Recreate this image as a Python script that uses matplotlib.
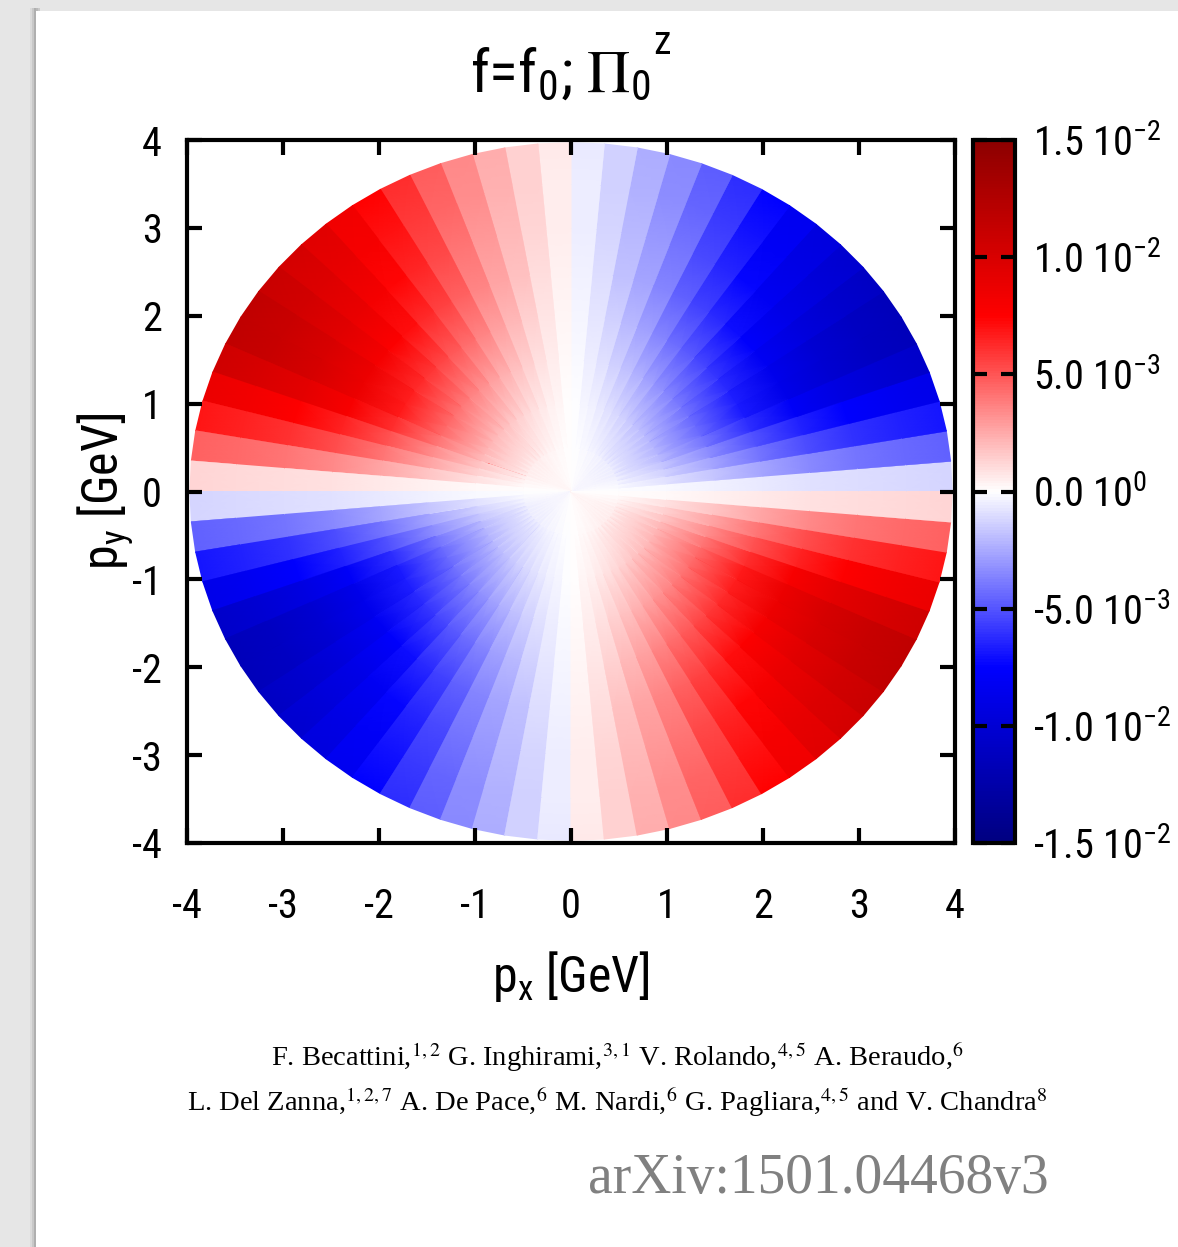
import numpy as np
import matplotlib
matplotlib.use("Agg")
import matplotlib.pyplot as plt
from matplotlib.colors import LinearSegmentedColormap, Normalize
from matplotlib.patches import Rectangle
from matplotlib.cm import ScalarMappable

# Pi_0^z at the rim of each 5-degree sector of the (px<0, py>0) quadrant, units of 1e-3
sector_centers_deg = np.arange(92.5, 180.0, 5.0)
rim_values = np.array([0.6, 1.4, 2.4, 3.5, 4.7, 6.1, 7.4, 8.4, 9.4,
                       10.2, 10.9, 11.5, 11.6, 10.6, 8.7, 6.9, 4.6, 1.2]) * 1e-3

# growth with transverse momentum, relative to the rim value
radial_nodes = [0.0, 0.5, 1.0, 1.5, 2.0, 2.5, 3.0, 3.5, 3.97]
radial_shape = [0.0, 0.05, 0.19, 0.38, 0.58, 0.75, 0.87, 0.95, 1.0]

tick_values = [-4, -3, -2, -1, 0, 1, 2, 3, 4]
cb_ticks = [-1.5e-2, -1.0e-2, -5.0e-3, 0.0, 5.0e-3, 1.0e-2, 1.5e-2]
cb_mantissa = ["-1.5", "-1.0", "-5.0", "0.0", "5.0", "1.0", "1.5"]
cb_exponent = ["-2", "-2", "-3", "0", "-3", "-2", "-2"]

SANS = ["Roboto Condensed", "Liberation Sans Narrow", "Liberation Sans", "DejaVu Sans"]
SERIF = ["Liberation Serif", "DejaVu Serif"]
plt.rcParams["font.family"] = SANS

W, H = 1178, 1247
fig = plt.figure(figsize=(W / 100, H / 100), dpi=100, facecolor="#e6e6e6")

# white page with a soft shadow on its left edge
for i, a in enumerate([0.05, 0.08, 0.12]):
    fig.patches.append(Rectangle(((30 + 2 * i) / W, 0), 6 / W, (H - 8) / H,
                                 transform=fig.transFigure, facecolor="k",
                                 alpha=a, edgecolor="none", zorder=-2))
fig.patches.append(Rectangle((36 / W, 0), 1 - 36 / W, (H - 11) / H,
                             transform=fig.transFigure, facecolor="white",
                             edgecolor="none", zorder=-1))

# gnuplot-like blue-white-red palette
cmap = LinearSegmentedColormap.from_list(
    "bwr_dark",
    [(0.0, (0.0, 0.0, 0.5)), (0.25, (0.0, 0.0, 1.0)), (0.5, (1.0, 1.0, 1.0)),
     (0.75, (1.0, 0.0, 0.0)), (1.0, (0.55, 0.0, 0.0))])
norm = Normalize(-1.5e-2, 1.5e-2)

# full azimuthal profile: antisymmetric about py axis, periodic in pi
q1 = -rim_values[::-1]
upper = np.concatenate([q1, rim_values])
sector_values = np.concatenate([upper, upper])
edges = np.arange(0.0, 360.0 + 5.0, 5.0)
ang = np.deg2rad(np.repeat(edges, 2)[1:-1])
R, A = np.meshgrid(radial_nodes, ang, indexing="ij")
X = R * np.cos(A)
Y = R * np.sin(A)
C = np.outer(radial_shape, np.repeat(sector_values, 2))

ax = fig.add_axes([187 / W, 1 - 843 / H, 768 / W, 703 / H])
ax.pcolormesh(X, Y, C, shading="gouraud", cmap=cmap, norm=norm,
              antialiased=True)
ax.set_xlim(-4, 4)
ax.set_ylim(-4, 4)
ax.set_xticks(tick_values)
ax.set_yticks(tick_values)
ax.set_xticklabels([str(v) for v in tick_values])
ax.set_yticklabels([str(v) for v in tick_values])
ax.tick_params(direction="in", length=11, width=3, top=True, right=True,
               labelsize=29, pad=18)
ax.tick_params(axis="x", pad=32)
for s in ax.spines.values():
    s.set_linewidth(3)

ax.set_xlabel(r"p$_{\mathregular{x}}$ [GeV]", fontsize=36)
ax.xaxis.label.set_va("baseline")
ax.xaxis.set_label_coords(0.5, -(992 - 843) / 703)
ax.set_ylabel(r"p$_{\mathregular{y}}$ [GeV]", fontsize=36)
ax.yaxis.label.set_va("center")
ax.yaxis.set_label_coords((105 - 187) / 768, 0.5)

# title: f = f0 ; Pi_0 with a raised z
fig.text(560 / W, 1 - 92 / H,
         r"f=f$_{\mathregular{0}}$; $\Pi_{\mathregular{0}}$",
         ha="center", va="baseline", fontsize=43, math_fontfamily="stix")
fig.text(653 / W, 1 - 54 / H, "z", ha="left", va="baseline", fontsize=29)

# colour box
cax = fig.add_axes([973 / W, 1 - 843 / H, 42 / W, 703 / H])
cb = fig.colorbar(ScalarMappable(norm=norm, cmap=cmap), cax=cax)
cb.outline.set_linewidth(3)
cb.set_ticks(cb_ticks)
cb.set_ticklabels([rf"{m} 10$^{{\mathregular{{{e}}}}}$"
                   for m, e in zip(cb_mantissa, cb_exponent)])
cax.tick_params(direction="in", length=10, width=3, left=True, right=True,
                labelsize=29, pad=13)

# authors and reference
fig.text(617 / W, 1 - 1057 / H,
         r"F. Becattini,$^{1,2}$ G. Inghirami,$^{3,1}$ V. Rolando,$^{4,5}$ A. Beraudo,$^{6}$",
         ha="center", va="center", fontsize=20.5, family=SERIF, math_fontfamily="stix")
fig.text(617 / W, 1 - 1102 / H,
         r"L. Del Zanna,$^{1,2,7}$ A. De Pace,$^{6}$ M. Nardi,$^{6}$ G. Pagliara,$^{4,5}$ and V. Chandra$^{8}$",
         ha="center", va="center", fontsize=20.5, family=SERIF, math_fontfamily="stix")
fig.text(1049 / W, 1 - 1193 / H, "arXiv:1501.04468v3", ha="right",
         va="baseline", fontsize=40, family=SERIF, color="#808080")

fig.savefig("out.png", dpi=100, facecolor=fig.get_facecolor())
